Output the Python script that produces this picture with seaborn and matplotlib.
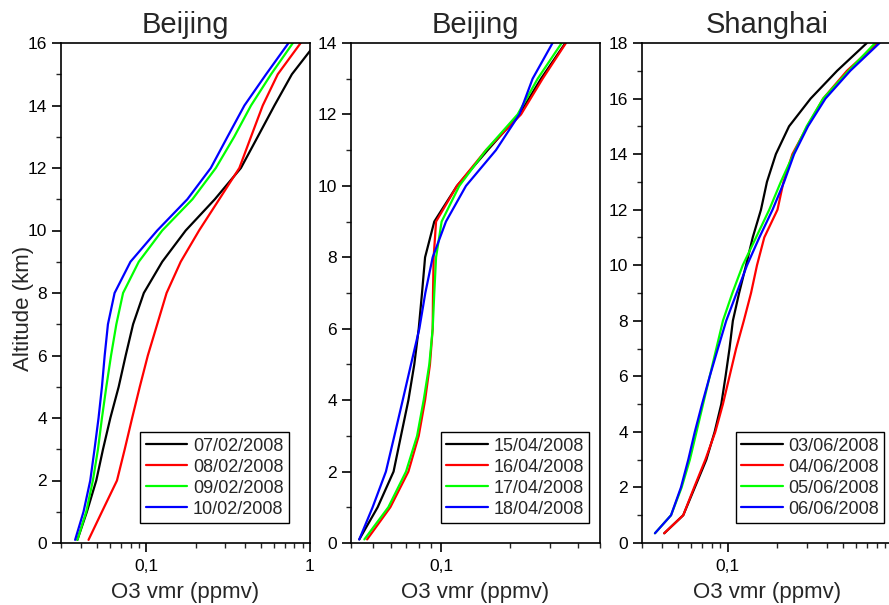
import numpy as np
import pandas as pd
import matplotlib
matplotlib.use("Agg")
import matplotlib.pyplot as plt
import matplotlib.ticker as mticker
import seaborn as sns

# ---------------- data ----------------
alt_bj1 = [0.1, 1, 2, 3, 4, 5, 6, 7, 8, 9, 10, 11, 12, 13, 14, 15, 16]
bj_0702 = [0.0378, 0.0432, 0.0493, 0.0542, 0.0601, 0.0676, 0.0746, 0.0828, 0.0963,
           0.1248, 0.1737, 0.2618, 0.378, 0.479, 0.606, 0.775, 1.09]
bj_0802 = [0.0442, 0.0534, 0.0660, 0.0736, 0.0817, 0.0910, 0.1019, 0.1163, 0.1327,
           0.1619, 0.2097, 0.2786, 0.3697, 0.4357, 0.514, 0.635, 0.877]
bj_0902 = [0.0378, 0.0428, 0.0470, 0.0505, 0.0534, 0.0568, 0.0607, 0.0654, 0.0719,
           0.0897, 0.1248, 0.191, 0.2655, 0.344, 0.4357, 0.578, 0.786]
bj_1002 = [0.0366, 0.0412, 0.0453, 0.0481, 0.0509, 0.0534, 0.0555, 0.0581, 0.0638,
           0.0798, 0.1163, 0.1778, 0.2473, 0.313, 0.397, 0.539, 0.739]
dates_bj1 = ["07/02/2008", "08/02/2008", "09/02/2008", "10/02/2008"]

alt_bj2 = [0.1, 1, 2, 3, 4, 5, 6, 7, 8, 9, 10, 11, 12, 13, 14]
bj_1504 = [0.0435, 0.0524, 0.0616, 0.0664, 0.0716, 0.0760, 0.0795, 0.0822, 0.0848,
           0.0931, 0.1172, 0.160, 0.2206, 0.2748, 0.3519]
bj_1604 = [0.0471, 0.0596, 0.0716, 0.0795, 0.0848, 0.0891, 0.0916, 0.0919, 0.0925,
           0.0948, 0.1172, 0.1573, 0.2244, 0.2794, 0.354]
bj_1704 = [0.0458, 0.0584, 0.0699, 0.0782, 0.0836, 0.0885, 0.0916, 0.0931, 0.0948,
           0.1003, 0.120, 0.1573, 0.2168, 0.2657, 0.339]
bj_1804 = [0.0435, 0.0498, 0.0570, 0.0621, 0.0676, 0.0735, 0.0800, 0.0850, 0.0916,
           0.1048, 0.1284, 0.174, 0.2206, 0.2524, 0.309]
dates_bj2 = ["15/04/2008", "16/04/2008", "17/04/2008", "18/04/2008"]

alt_sh = [0.35, 1, 2, 3, 4, 5, 6, 7, 8, 9, 10, 11, 12, 13, 14, 15, 16, 17, 18]
sh_0306 = [0.0411, 0.0536, 0.0630, 0.0740, 0.0831, 0.0912, 0.0968, 0.1023, 0.1072,
           0.117, 0.1289, 0.1415, 0.1588, 0.1726, 0.1955, 0.235, 0.3178, 0.46, 0.697]
sh_0406 = [0.0411, 0.0536, 0.0624, 0.0730, 0.0839, 0.0933, 0.1023, 0.1122, 0.1249,
           0.1382, 0.1502, 0.1663, 0.200, 0.2175, 0.2463, 0.3035, 0.3787, 0.528, 0.809]
sh_0506 = [0.0361, 0.0452, 0.0524, 0.0588, 0.0645, 0.0707, 0.0776, 0.0851, 0.0933,
           0.1065, 0.1231, 0.1482, 0.1783, 0.2095, 0.250, 0.3006, 0.3787, 0.540, 0.783]
sh_0606 = [0.0361, 0.0452, 0.0519, 0.0575, 0.0630, 0.0697, 0.0776, 0.0870, 0.0977,
           0.113, 0.1307, 0.1552, 0.1867, 0.2194, 0.2523, 0.3062, 0.391, 0.553, 0.832]
dates_sh = ["03/06/2008", "04/06/2008", "05/06/2008", "06/06/2008"]

titles = ["Beijing", "Beijing", "Shanghai"]
colors = ["#000000", "#FF0000", "#00FF00", "#0000FF"]


def make_df(alt, series, dates):
    frames = []
    for vals, d in zip(series, dates):
        frames.append(pd.DataFrame({"alt": alt, "o3": vals, "date": d}))
    return pd.concat(frames, ignore_index=True)


dfs = [make_df(alt_bj1, [bj_0702, bj_0802, bj_0902, bj_1002], dates_bj1),
       make_df(alt_bj2, [bj_1504, bj_1604, bj_1704, bj_1804], dates_bj2),
       make_df(alt_sh, [sh_0306, sh_0406, sh_0506, sh_0606], dates_sh)]
date_lists = [dates_bj1, dates_bj2, dates_sh]

# ---------------- style ----------------
sns.set_theme(style="ticks")
plt.rcParams["font.family"] = ["Liberation Sans", "DejaVu Sans"]
plt.rcParams["axes.linewidth"] = 1.2
plt.rcParams["axes.edgecolor"] = "black"

W, H = 889, 605
fig = plt.figure(figsize=(W / 100, H / 100), dpi=100)

# axes boxes in pixels: (left, right)
boxes = [(61, 310), (351, 600), (641.7, 892.7)]
top_px, bot_px = 43, 543
xlims = [(0.03, 1.0), (0.04, 0.5), (0.03, 1.0)]
ylims = [(0, 16), (0, 14), (0, 18)]
leg_anchor = [(0.915, 0.04), (0.957, 0.04), (0.966, 0.04)]

for i in range(3):
    l, r = boxes[i]
    ax = fig.add_axes([l / W, (H - bot_px) / H, (r - l) / W, (bot_px - top_px) / H])
    pal = dict(zip(date_lists[i], colors))
    sns.lineplot(data=dfs[i], x="o3", y="alt", hue="date", palette=pal,
                 sort=False, estimator=None, linewidth=1.6, legend=False, ax=ax)
    ax.set_xscale("log")
    ax.set_xlim(*xlims[i])
    ax.set_ylim(*ylims[i])
    ax.xaxis.set_major_locator(mticker.LogLocator(base=10, numticks=10))
    ax.xaxis.set_minor_locator(mticker.LogLocator(base=10, subs=np.arange(2, 10), numticks=20))
    ax.xaxis.set_major_formatter(mticker.FuncFormatter(
        lambda v, p: ("%g" % v).replace(".", ",")))
    ax.xaxis.set_minor_formatter(mticker.NullFormatter())
    ax.yaxis.set_major_locator(mticker.MultipleLocator(2))
    ax.yaxis.set_minor_locator(mticker.MultipleLocator(1))
    ax.tick_params(axis="both", which="major", direction="out", length=6.5, width=1.2,
                   labelsize=12.5, colors="black", top=False, right=False)
    ax.tick_params(axis="x", which="major", pad=5)
    ax.tick_params(axis="both", which="minor", direction="out", length=3.5, width=1.0,
                   top=False, right=False)
    for s in ax.spines.values():
        s.set_visible(True)
        s.set_color("black")
        s.set_linewidth(1.2)
    ax.set_xlabel("O3 vmr (ppmv)", fontsize=16, labelpad=6)
    if i == 0:
        ax.set_ylabel("Altitude (km)", fontsize=16)
        ax.yaxis.set_label_coords(-0.11, 0.47)
    else:
        ax.set_ylabel("")
    ax.set_title(titles[i], fontsize=21, pad=7)
    handles = ax.get_lines()[:4]
    leg = ax.legend(handles, date_lists[i], loc="lower right",
                    bbox_to_anchor=leg_anchor[i], fontsize=13, frameon=True,
                    fancybox=False, shadow=False, framealpha=1, edgecolor="black",
                    handlelength=2.3, handletextpad=0.3, labelspacing=0.22,
                    borderpad=0.3, borderaxespad=0)
    leg.get_frame().set_linewidth(1.0)

fig.savefig("out.png", dpi=100)
